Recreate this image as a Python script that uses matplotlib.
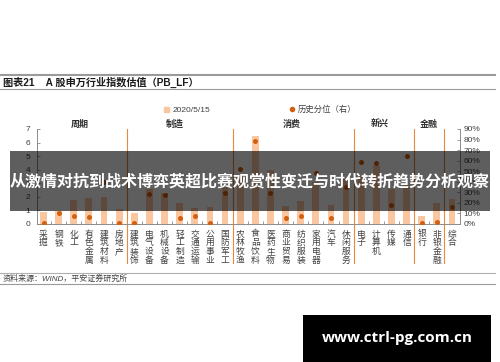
import numpy as np
import matplotlib
matplotlib.use('Agg')
import matplotlib.pyplot as plt
import matplotlib.transforms as mtransforms
from matplotlib.patches import Rectangle
from matplotlib.lines import Line2D

plt.rcParams['font.family'] = ['Liberation Sans', 'Noto Sans CJK SC', 'DejaVu Sans']

categories = ['采掘', '钢铁', '化工', '有色金属', '建筑材料', '房地产', '建筑装饰', '电气设备',
              '机械设备', '轻工制造', '交通运输', '公用事业', '国防军工', '农林牧渔', '食品饮料',
              '医药生物', '商业贸易', '纺织服装', '家用电器', '汽车', '休闲服务', '电子', '计算机',
              '传媒', '通信', '银行', '非银金融', '综合']
pb_values = [0.87, 0.95, 1.78, 1.90, 2.02, 1.09, 0.84, 2.60, 2.30, 1.58, 1.21, 1.24, 2.70, 3.58,
             6.52, 3.95, 1.36, 1.70, 3.13, 1.40, 3.50, 3.60, 4.24, 2.60, 2.90, 0.59, 1.53, 1.85]
hist_pct = [0.5, 10.7, 7.9, 6.6, 40.0, 0.5, 0.5, 28.0, 27.5, 5.4, 7.6, 0.5, 29.0, 51.8,
            79.0, 29.0, 6.0, 7.3, 48.0, 5.7, 35.0, 59.0, 57.5, 18.0, 64.7, 0.5, 1.6, 16.4]
left_ticks = [0, 1, 2, 3, 4, 5, 6, 7]
right_ticks = [0, 10, 20, 30, 40, 50, 60, 70, 80, 90]
sections = ['周期', '制造', '消费', '新兴', '金融']
section_pos = [2.4, 8.7, 16.4, 22.2, 25.5]
separators = [5.5, 12.5, 20.5, 24.5, 26.5]

BAR = '#f9c6a0'
DOT = '#d4600f'
SEP = '#e8893c'
SPINE = '#8c8c8c'
TXT = '#404040'

fig = plt.figure(figsize=(5.0, 3.62), dpi=100)
W, H = 500.0, 362.0
ax = fig.add_axes([37 / W, 1 - 224 / H, 423 / W, 95 / H])
x = np.arange(len(categories))
ax.bar(x, pb_values, width=0.45, color=BAR, zorder=2)
ax.set_xlim(-0.43, len(categories) - 0.47)
ax.set_ylim(0, 7)
ax.set_yticks(left_ticks)
ax.set_yticklabels([str(v) for v in left_ticks])

ax2 = ax.twinx()
ax2.scatter(x, hist_pct, s=13, color=DOT, zorder=3, linewidths=0)
ax2.set_ylim(0, 90)
ax2.set_yticks(right_ticks)
ax2.set_yticklabels([f'{v}%' for v in right_ticks])

for a in (ax, ax2):
    a.spines['top'].set_visible(False)
    for s in ('left', 'right', 'bottom'):
        a.spines[s].set_color(SPINE)
        a.spines[s].set_linewidth(0.6)
ax.tick_params(axis='y', direction='in', length=2.5, width=0.6, color=SPINE,
               labelsize=6, labelcolor=TXT, pad=5)
ax2.tick_params(axis='y', direction='in', length=2.5, width=0.6, color=SPINE,
                labelsize=6, labelcolor=TXT, pad=2.5)

ax.set_xticks(x)
ax.set_xticklabels(['\n'.join(c) for c in categories], family=['Noto Sans CJK SC'],
                   fontsize=6.3, linespacing=0.95, va='top')
ax.tick_params(axis='x', which='major', length=0, pad=4, labelcolor=TXT)
ax.set_xticks(x[:-1] + 0.5, minor=True)
ax.tick_params(axis='x', which='minor', direction='in', length=2, width=0.6, color=SPINE)

trans = mtransforms.blended_transform_factory(ax.transData, ax.transAxes)
for s in separators:
    ax.plot([s, s], [-0.41, 1.0], transform=trans, color=SEP, lw=0.8, clip_on=False, zorder=4)
for name, p in zip(sections, section_pos):
    ax.text(p, 1.05, '  '.join(name) if False else name, transform=trans, ha='center', va='center',
            fontsize=6.5, fontweight='bold', color='#303030', family=['Noto Sans CJK SC'])

handles = [Rectangle((0, 0), 1, 1, color=BAR),
           Line2D([], [], marker='o', color=DOT, ls='none', markersize=3)]
leg = ax.legend(handles, ['2020/5/15', '历史分位（右）'], ncol=2, loc='center',
                bbox_to_anchor=((260 - 37) / 423, 1 + 19 / 95), frameon=False,
                fontsize=6, columnspacing=9.5, handlelength=0.6, handleheight=0.6,
                handletextpad=0.4, borderaxespad=0)
for t in leg.get_texts():
    t.set_color(TXT)

# header
fig.add_artist(Line2D([0, 495 / W], [1 - 75 / H] * 2, color='#9a9a9a', lw=1.5))
fig.add_artist(Line2D([0, 495 / W], [1 - 88.7 / H] * 2, color='#9a9a9a', lw=0.8))
fig.text(3 / W, 1 - 82 / H, '图表21    A 股申万行业指数估值（PB_LF）', fontsize=7.3,
         fontweight='bold', va='center', ha='left', color='#1a1a1a')

# source
fig.add_artist(Line2D([0, 495 / W], [1 - 272.7 / H] * 2, color='#b0b0b0', lw=0.8))
fig.add_artist(Line2D([0, 495 / W], [1 - 284 / H] * 2, color='#9a9a9a', lw=0.8))
fig.text(3 / W, 1 - 278.5 / H, '资料来源：WIND，平安证券研究所', fontsize=5.8,
         style='italic', va='center', ha='left', color='#404040')

# overlay banner
fig.add_artist(Rectangle((10 / W, 1 - 211 / H), 480 / W, 60 / H, transform=fig.transFigure,
                         facecolor='black', edgecolor='none', alpha=0.63, zorder=10))
fig.text(250 / W, 1 - 181 / H, '从激情对抗到战术博弈英超比赛观赏性变迁与时代转折趋势分析观察',
         fontsize=11.5, fontweight='bold', color='white', ha='center', va='center',
         family=['Noto Sans CJK SC'], zorder=11)

# watermark
fig.add_artist(Rectangle((303 / W, 0), 188 / W, 47 / H, transform=fig.transFigure,
                         facecolor='black', edgecolor='none', zorder=10))
fig.text(397 / W, 1 - 338 / H, 'www.ctrl-pg.com.cn', fontsize=11, fontweight='bold',
         color='white', ha='center', va='center', family=['Open Sans', 'DejaVu Sans'], zorder=11)

fig.savefig('out.png', dpi=100)
